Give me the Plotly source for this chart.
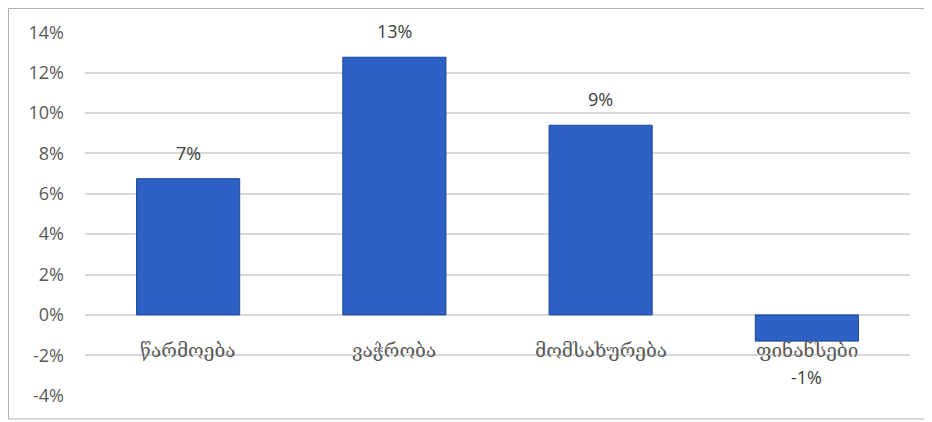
import plotly.graph_objects as go

categories = ["წარმოება", "ვაჭრობა", "მომსახურება", "ფინანსები"]
values = [0.0675, 0.1277, 0.094, -0.013]
tick_vals = [-0.04, -0.02, 0.0, 0.02, 0.04, 0.06, 0.08, 0.10, 0.12, 0.14]
tick_text = ["-4%", "-2%", "0%", "2%", "4%", "6%", "8%", "10%", "12%", "14%"]

# page body has an 8px margin; compensate
W, H = 924, 414
ML, MR, MT, MB = 77, 22, 24, 26
NUMFONT = "Open Sans, Noto Sans, sans-serif"
CATFONT = "DejaVu Serif, DejaVu Sans, serif"
GRAY = "#595959"

fig = go.Figure()
fig.add_trace(go.Bar(
    x=categories, y=values, width=0.5,
    marker=dict(color="#2d61c6", line=dict(color="#1d4796", width=1)),
    hoverinfo="skip",
))

annotations = []
for c, v in zip(categories, values):
    annotations.append(dict(x=c, y=0, xref="x", yref="y", text=c, showarrow=False,
                            yanchor="top", yshift=-22,
                            font=dict(family=CATFONT, size=19, color=GRAY)))
    if v >= 0:
        annotations.append(dict(x=c, y=v, xref="x", yref="y", text=f"{v:.0%}",
                                showarrow=False, yanchor="bottom", yshift=12,
                                font=dict(family=NUMFONT, size=18, color="#404040")))
    else:
        annotations.append(dict(x=c, y=v, xref="x", yref="y", text=f"{v:.0%}",
                                showarrow=False, yanchor="top", yshift=-22,
                                font=dict(family=NUMFONT, size=18, color="#404040")))

pw = W - ML - MR
ph = H - MT - MB
fig.add_shape(type="rect", xref="paper", yref="paper",
              x0=(0.5 - ML) / pw, x1=(920 - ML) / pw,
              y0=(H - MB - 411) / ph, y1=(H - MB - 0.5) / ph,
              line=dict(color="#b0b0b0", width=1), fillcolor="rgba(0,0,0,0)", layer="below")

fig.update_layout(
    width=W, height=H,
    margin=dict(l=ML, r=MR, t=MT, b=MB),
    paper_bgcolor="white", plot_bgcolor="white",
    showlegend=False,
    annotations=annotations,
    xaxis=dict(showticklabels=False, showgrid=False, zeroline=False, showline=False,
               ticks=""),
    yaxis=dict(range=[-0.0402, 0.1402], tickvals=tick_vals, ticktext=tick_text,
               showgrid=True, gridcolor="#d9d9d9", gridwidth=1.5,
               zeroline=True, zerolinecolor="#d9d9d9", zerolinewidth=1.5,
               showline=False, ticks="", ticklabelstandoff=20,
               tickfont=dict(family=NUMFONT, size=18, color=GRAY)),
)

fig.write_html("out.html")
